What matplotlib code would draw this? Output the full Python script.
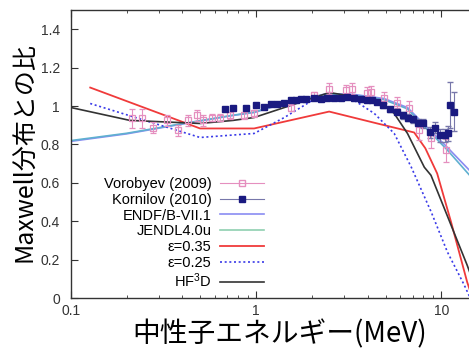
"""
Ratio of prompt fission neutron spectrum to Maxwellian
"""
import matplotlib
matplotlib.use('Agg')
from matplotlib import pyplot as plt
from matplotlib.lines import Line2D
from matplotlib.ticker import FormatStrFormatter

plt.rcParams['font.family'] = ['Liberation Sans', 'DejaVu Sans']
plt.rcParams['mathtext.fontset'] = 'custom'
plt.rcParams['mathtext.rm'] = 'Liberation Sans'
plt.rcParams['mathtext.default'] = 'regular'

# Vorobyev (2009): energy MeV, ratio, error
VOR_E = [0.214, 0.242, 0.277, 0.330, 0.379, 0.429, 0.480, 0.517, 0.578, 0.638,
         0.723, 0.861, 0.975, 1.55, 2.06, 2.48, 3.06, 3.30, 3.98, 4.19,
         4.92, 5.78, 6.71, 7.60, 8.83, 10.6]
VOR_R = [0.935, 0.935, 0.888, 0.925, 0.873, 0.925, 0.951, 0.925, 0.940, 0.940,
         0.951, 0.951, 0.961, 0.992, 1.055, 1.091, 1.081, 1.091, 1.070, 1.075,
         1.044, 1.018, 0.987, 0.873, 0.831, 0.770]
VOR_ERR = [0.05, 0.05, 0.03, 0.03, 0.03, 0.03, 0.03, 0.03, 0.02, 0.02,
           0.02, 0.02, 0.02, 0.02, 0.02, 0.03, 0.03, 0.03, 0.03, 0.03,
           0.03, 0.03, 0.04, 0.05, 0.05, 0.06]

# Kornilov (2010)
KOR_E = [0.679, 0.751, 0.883, 1.0, 1.105, 1.205, 1.30, 1.42, 1.55, 1.65,
         1.75, 1.86, 2.06, 2.25, 2.42, 2.64, 2.88, 3.10, 3.39, 3.70,
         3.98, 4.24, 4.51, 4.86, 5.30, 5.78, 6.23, 6.64, 7.06, 7.51,
         8.0, 8.73, 9.29, 9.88, 10.5, 10.9, 11.2, 11.75]
KOR_R = [0.982, 0.987, 0.992, 1.003, 0.997, 1.013, 1.013, 1.018, 1.029, 1.029,
         1.034, 1.034, 1.044, 1.039, 1.044, 1.044, 1.044, 1.049, 1.044, 1.039,
         1.029, 1.029, 1.023, 1.003, 0.982, 0.971, 0.951, 0.940, 0.930, 0.914,
         0.909, 0.862, 0.888, 0.847, 0.847, 0.857, 1.003, 0.971]
KOR_ERR = [0.01, 0.01, 0.01, 0.01, 0.01, 0.01, 0.01, 0.01, 0.01, 0.01,
           0.01, 0.01, 0.01, 0.01, 0.01, 0.01, 0.01, 0.01, 0.01, 0.01,
           0.01, 0.01, 0.01, 0.015, 0.015, 0.015, 0.02, 0.02, 0.02, 0.02,
           0.025, 0.03, 0.03, 0.035, 0.035, 0.04, 0.12, 0.10]

# evaluated libraries and calculations
ENDF_E = [0.1, 0.2, 0.388, 0.75, 0.975, 1.42, 2.42, 3.39, 4.9, 6.57, 8.4, 10.8, 14.2, 20.0]
ENDF_R = [0.816, 0.855, 0.904, 0.951, 0.966, 1.013, 1.065, 1.060, 1.039, 0.992, 0.888, 0.784, 0.665, 0.52]
JENDL_E = [0.1, 0.2, 0.388, 0.75, 0.975, 1.42, 2.42, 3.39, 4.9, 6.57, 8.4, 10.8, 14.2, 20.0]
JENDL_R = [0.820, 0.858, 0.906, 0.952, 0.968, 1.015, 1.062, 1.056, 1.033, 0.985, 0.878, 0.770, 0.640, 0.48]

EPS35_E = [0.127, 0.498, 0.975, 2.48, 4.51, 7.14, 8.2, 9.5, 11.3, 13.8, 16.0]
EPS35_R = [1.096, 0.883, 0.883, 0.971, 0.909, 0.862, 0.78, 0.649, 0.395, 0.083, -0.1]

EPS25_E = [0.127, 0.498, 0.975, 1.42, 2.01, 2.42, 3.39, 4.35, 5.57, 6.89, 8.83, 10.8, 13.3, 16.0]
EPS25_R = [1.013, 0.836, 0.857, 0.940, 1.029, 1.055, 1.029, 0.961, 0.857, 0.681, 0.447, 0.239, 0.068, -0.1]

HF3D_E = [0.1, 0.208, 0.498, 0.75, 0.975, 1.42, 2.48, 3.67, 5.12, 5.57, 6.57, 8.1, 8.8, 13.8, 16.0]
HF3D_R = [0.992, 0.925, 0.909, 0.925, 0.940, 0.992, 1.070, 1.044, 0.992, 0.961, 0.857, 0.681, 0.639, 0.171, 0.0]

COLOURS = {'vor': '#e58fbf', 'kor': '#1a1a80', 'endf': '#8a8cf2', 'jendl': '#5fb0d0',
           'eps35': '#f03a3a', 'eps25': '#3a3ae8', 'hf3d': '#333333'}


def main():
    fig = plt.figure(figsize=(4.69, 3.51), dpi=100)
    ax = fig.add_axes([71 / 469, 53 / 351, 426 / 469, 288 / 351])

    ax.plot(ENDF_E, ENDF_R, color=COLOURS['endf'], lw=1.2)
    ax.plot(JENDL_E, JENDL_R, color=COLOURS['jendl'], lw=1.2)
    ax.plot(EPS35_E, EPS35_R, color=COLOURS['eps35'], lw=1.3)
    ax.plot(EPS25_E, EPS25_R, color=COLOURS['eps25'], lw=1.2, ls=(0, (1.2, 1.6)))
    ax.plot(HF3D_E, HF3D_R, color=COLOURS['hf3d'], lw=1.2)

    ax.errorbar(VOR_E, VOR_R, yerr=VOR_ERR, fmt='s', ms=4.5, mfc='none',
                mec=COLOURS['vor'], ecolor=COLOURS['vor'], elinewidth=0.8,
                capsize=2.5, mew=0.9)
    ax.errorbar(KOR_E, KOR_R, yerr=KOR_ERR, fmt='s', ms=4.2, color=COLOURS['kor'],
                ecolor='#7777aa', elinewidth=0.8, capsize=2.5)

    ax.set_xscale('log')
    ax.set_xlim(0.1, 20)
    ax.set_ylim(0, 1.5)
    ax.set_xticks([0.1, 1, 10])
    ax.set_xticklabels(['0.1', '1', '10'])
    ax.set_yticks([0, 0.2, 0.4, 0.6, 0.8, 1.0, 1.2, 1.4])
    ax.yaxis.set_major_formatter(FormatStrFormatter('%g'))
    ax.tick_params(axis='both', which='both', direction='in', top=True,
                   labelsize=10, colors='#333333')
    ax.tick_params(axis='x', which='major', length=5, pad=4)
    ax.tick_params(axis='x', which='minor', length=2.5)
    ax.tick_params(axis='y', which='major', length=5, pad=8)
    for spine in ax.spines.values():
        spine.set_color('#333333')
        spine.set_linewidth(1.0)

    handles = [
        Line2D([], [], color=COLOURS['vor'], lw=0.8, marker='s', ms=4.5, mfc='none', mec=COLOURS['vor']),
        Line2D([], [], color='#7777aa', lw=0.8, marker='s', ms=4.2, mfc=COLOURS['kor'], mec=COLOURS['kor']),
        Line2D([], [], color=COLOURS['endf'], lw=1.2),
        Line2D([], [], color='#8fd0b0', lw=1.2),
        Line2D([], [], color=COLOURS['eps35'], lw=1.3),
        Line2D([], [], color=COLOURS['eps25'], lw=1.2, ls=(0, (1.2, 1.6))),
        Line2D([], [], color=COLOURS['hf3d'], lw=1.2),
    ]
    labels = ['Vorobyev (2009)', 'Kornilov (2010)', 'ENDF/B-VII.1', 'JENDL4.0u',
              'ε=0.35', 'ε=0.25', 'HF$^3$D']
    fig.legend(handles, labels, loc='upper right', bbox_to_anchor=(264 / 469, 1 - 177 / 351),
               bbox_transform=fig.transFigure, frameon=False, markerfirst=False,
               fontsize=10.5, handlelength=3.0, handletextpad=0.6, labelspacing=0.12,
               borderpad=0, borderaxespad=0)

    fig.text(25 / 469, 1 - 152 / 351, 'Maxwell分布との比', rotation=90, ha='center', va='center',
             fontsize=18, family=['Noto Sans CJK JP', 'DejaVu Sans'])
    fig.text(280 / 469, 1 - 334 / 351, '中性子エネルギー(MeV)', ha='center', va='center',
             fontsize=20, family=['Noto Sans CJK JP', 'DejaVu Sans'])

    fig.savefig('out.png', dpi=100)


if __name__ == '__main__':
    main()
